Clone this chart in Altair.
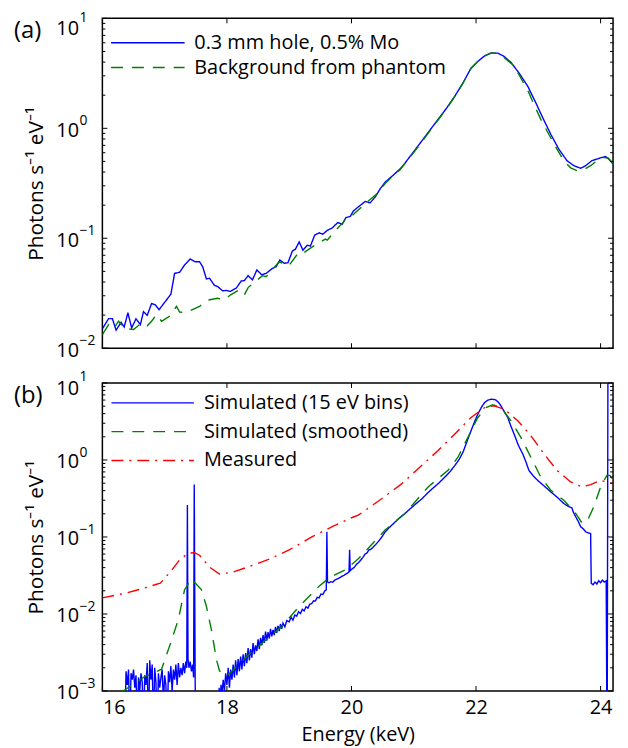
import altair as alt
import pandas as pd

# ---------------- data ----------------
# Panel (a): 0.3 mm hole, 0.5% Mo
EA_HOLE = [16.00, 16.10, 16.16, 16.22, 16.30, 16.35, 16.41, 16.47, 16.54, 16.61,
           16.66, 16.72, 16.79, 16.85, 16.91, 17.10, 17.16, 17.24, 17.32, 17.41,
           17.49, 17.56, 17.61, 17.67, 17.72, 17.80, 17.85, 17.93, 17.99, 18.05,
           18.15, 18.23, 18.28, 18.34, 18.41, 18.48, 18.56, 18.63, 18.73, 18.79,
           18.85, 18.92, 18.98, 19.05, 19.10, 19.16, 19.22, 19.29, 19.34, 19.41,
           19.48, 19.54, 19.61, 19.69, 19.78, 19.85, 19.91, 19.98, 20.03, 20.12,
           20.22, 20.30, 20.38, 20.46, 20.54, 20.65, 20.78, 20.86, 20.94, 21.07,
           21.23, 21.39, 21.52, 21.66, 21.79, 21.92, 22.03, 22.14, 22.24, 22.35,
           22.45, 22.56, 22.69, 22.83, 22.96, 23.07, 23.20, 23.33, 23.46, 23.57,
           23.68, 23.76, 23.86, 23.94, 24.02, 24.08, 24.13, 24.20]
VA_HOLE = [0.0150, 0.0186, 0.0186, 0.0146, 0.0172, 0.0156, 0.0210, 0.0153, 0.0185, 0.0164,
           0.0215, 0.0199, 0.0255, 0.0248, 0.0224, 0.0310, 0.0480, 0.0490, 0.0572, 0.0647,
           0.0612, 0.0612, 0.0552, 0.0427, 0.0433, 0.0372, 0.0364, 0.0333, 0.0335, 0.0328,
           0.0352, 0.0409, 0.0412, 0.0457, 0.0418, 0.0515, 0.0465, 0.0480, 0.0532, 0.0552,
           0.0634, 0.0592, 0.0600, 0.0764, 0.0796, 0.0927, 0.0780, 0.0865, 0.0849, 0.107,
           0.112, 0.109, 0.118, 0.124, 0.139, 0.134, 0.154, 0.158, 0.177, 0.195,
           0.216, 0.210, 0.237, 0.281, 0.324, 0.366, 0.427, 0.483, 0.555, 0.693,
           0.914, 1.205, 1.507, 1.963, 2.588, 3.532, 4.064, 4.571, 4.831, 4.831,
           4.508, 3.981, 3.184, 2.415, 1.706, 1.250, 0.883, 0.646, 0.508, 0.457,
           0.433, 0.457, 0.508, 0.525, 0.543, 0.555, 0.525, 0.473]

# Panel (a): background from phantom
EA_BG = [16.00, 16.10, 16.18, 16.26, 16.35, 16.50, 16.63, 16.72, 16.79, 16.87,
         16.95, 17.03, 17.08, 17.19, 17.24, 17.35, 17.56, 17.67, 17.85, 17.96,
         18.06, 18.20, 18.28, 18.34, 18.49, 18.57, 18.63, 18.84, 18.99, 19.16,
         19.24, 19.37, 19.58, 19.61, 19.71, 19.90, 20.01, 20.27, 20.41, 20.54,
         20.65, 20.78, 20.94, 21.07, 21.23, 21.39, 21.52, 21.66, 21.79, 21.92,
         22.03, 22.14, 22.24, 22.35, 22.45, 22.59, 22.69, 22.85, 22.93, 23.04,
         23.14, 23.30, 23.41, 23.52, 23.62, 23.73, 23.84, 23.95, 24.05, 24.12,
         24.20]
VA_BG = [0.0133, 0.0164, 0.0150, 0.0176, 0.0151, 0.0148, 0.0170, 0.0160, 0.0176, 0.0202,
         0.0176, 0.0188, 0.0195, 0.0240, 0.0213, 0.0212, 0.0240, 0.0272, 0.0285, 0.0275,
         0.0306, 0.0340, 0.0306, 0.0356, 0.0418, 0.0457, 0.0448, 0.0612, 0.0560, 0.0753,
         0.0743, 0.0836, 0.0982, 0.0961, 0.112, 0.146, 0.161, 0.218, 0.254, 0.315,
         0.360, 0.420, 0.545, 0.680, 0.900, 1.190, 1.490, 1.950, 2.570, 3.500,
         4.050, 4.550, 4.850, 4.800, 4.400, 3.780, 3.080, 2.100, 1.650, 1.205,
         0.946, 0.646, 0.508, 0.437, 0.412, 0.421, 0.457, 0.513, 0.543, 0.537,
         0.480]

# Panel (b): simulated, 15 eV bins
EB_SIM = [16.36, 16.38, 16.40, 16.42, 16.44, 16.46, 16.48, 16.50, 16.52, 16.54,
          16.56, 16.58, 16.60, 16.62, 16.64, 16.66, 16.68, 16.70, 16.72, 16.74,
          16.76, 16.78, 16.80, 16.82, 16.84, 16.86, 16.88, 16.90, 16.92, 16.94,
          16.96, 16.98, 17.00, 17.02, 17.04, 17.06, 17.08, 17.10, 17.12, 17.14,
          17.16, 17.18, 17.20, 17.22, 17.24, 17.26, 17.28, 17.30, 17.32, 17.34,
          17.355, 17.365, 17.375, 17.39, 17.41, 17.43, 17.45, 17.465, 17.475, 17.49,
          17.50, 17.64, 17.655, 17.67, 17.72, 17.735, 17.75, 17.79, 17.805, 17.82,
          17.86, 17.875, 17.89, 17.905, 17.92, 17.94, 17.96, 17.98, 18.00, 18.02,
          18.04, 18.06, 18.08, 18.10, 18.12, 18.14, 18.16, 18.18, 18.20, 18.22,
          18.24, 18.26, 18.28, 18.30, 18.32, 18.34, 18.36, 18.38, 18.40, 18.42,
          18.44, 18.46, 18.48, 18.50, 18.52, 18.54, 18.56, 18.58, 18.60, 18.62,
          18.64, 18.66, 18.68, 18.70, 18.72, 18.74, 18.76, 18.78, 18.80, 18.82,
          18.84, 18.86, 18.88, 18.90, 18.93, 18.96, 19.00, 19.03, 19.06, 19.09,
          19.12, 19.15, 19.18, 19.21, 19.24, 19.27, 19.30, 19.33, 19.36, 19.39,
          19.42, 19.45, 19.48, 19.51, 19.54, 19.57, 19.595, 19.605, 19.615, 19.64,
          19.67, 19.70, 19.73, 19.76, 19.79, 19.82, 19.85, 19.88, 19.91, 19.94,
          19.96, 19.97, 19.98, 20.01, 20.04, 20.07, 20.10, 20.14, 20.18, 20.22,
          20.25, 20.28, 20.31, 20.35, 20.39, 20.43, 20.48, 20.54, 20.60, 20.67,
          20.74, 20.81, 20.86, 20.93, 21.00, 21.07, 21.14, 21.21, 21.30, 21.40,
          21.50, 21.58, 21.66, 21.73, 21.79, 21.85, 21.92, 21.98, 22.03, 22.09,
          22.14, 22.19, 22.24, 22.29, 22.32, 22.36, 22.40, 22.45, 22.51, 22.56,
          22.61, 22.68, 22.75, 22.80, 22.85, 22.92, 22.99, 23.10, 23.20, 23.30,
          23.41, 23.48, 23.54, 23.56, 23.60, 23.64, 23.68, 23.72, 23.76, 23.80,
          23.84, 23.85, 23.88, 23.91, 23.94, 23.97, 24.00, 24.03, 24.06, 24.09,
          24.105, 24.12, 24.135]
VB_SIM = [0.0003, 0.0018, 0.0012, 0.0019, 0.0003, 0.0017, 0.0014, 0.0019, 0.0011, 0.0016,
          0.0003, 0.0015, 0.0010, 0.0017, 0.0013, 0.0003, 0.0016, 0.0012, 0.0023, 0.0003,
          0.0025, 0.0014, 0.0022, 0.0003, 0.0020, 0.0013, 0.0003, 0.0017, 0.0011, 0.0015,
          0.0019, 0.0007, 0.0016, 0.0012, 0.0003, 0.0018, 0.0013, 0.0021, 0.0010, 0.0019,
          0.0014, 0.0022, 0.0012, 0.0023, 0.0015, 0.0020, 0.0016, 0.0023, 0.0017, 0.0024,
          0.0020, 0.26, 0.0026, 0.0020, 0.0024, 0.0018, 0.0022, 0.0015, 0.48, 0.0013,
          0.0002, 0.0002, 0.0010, 0.0002, 0.0002, 0.0009, 0.0002, 0.0002, 0.0010, 0.0002,
          0.0002, 0.0011, 0.0006, 0.0012, 0.0009, 0.0014, 0.0010, 0.0017, 0.0012, 0.0020,
          0.0011, 0.0019, 0.0014, 0.0022, 0.0015, 0.0025, 0.0016, 0.0026, 0.0018, 0.0028,
          0.0019, 0.0030, 0.0021, 0.0031, 0.0023, 0.0036, 0.0025, 0.0035, 0.0027, 0.0042,
          0.0030, 0.0039, 0.0033, 0.0047, 0.0035, 0.0049, 0.0039, 0.0053, 0.0042, 0.0059,
          0.0045, 0.0058, 0.0048, 0.0064, 0.0051, 0.0062, 0.0053, 0.0068, 0.0057, 0.0070,
          0.0060, 0.0074, 0.0064, 0.0076, 0.0068, 0.0082, 0.0079, 0.0091, 0.0083, 0.0097,
          0.0094, 0.0107, 0.0101, 0.0115, 0.0110, 0.0124, 0.0119, 0.0134, 0.0136, 0.0148,
          0.0147, 0.0165, 0.0162, 0.0181, 0.0179, 0.0199, 0.0205, 0.117, 0.026, 0.0255,
          0.0262, 0.0258, 0.0275, 0.0282, 0.0290, 0.0298, 0.0310, 0.0318, 0.0330, 0.0342,
          0.0350, 0.068, 0.0365, 0.0385, 0.0400, 0.0430, 0.0455, 0.0490, 0.0540, 0.0600,
          0.0620, 0.0680, 0.0690, 0.0740, 0.0800, 0.0870, 0.0980, 0.116, 0.131, 0.148,
          0.168, 0.188, 0.202, 0.228, 0.255, 0.285, 0.318, 0.365, 0.425, 0.50,
          0.60, 0.70, 0.85, 1.02, 1.26, 1.70, 2.40, 3.20, 3.95, 4.90,
          5.60, 6.00, 6.15, 6.10, 6.00, 5.60, 5.05, 4.30, 3.55, 2.75,
          2.18, 1.55, 1.20, 0.95, 0.73, 0.62, 0.543, 0.455, 0.385, 0.330,
          0.272, 0.250, 0.238, 0.212, 0.183, 0.160, 0.136, 0.128, 0.117, 0.113,
          0.111, 0.025, 0.024, 0.026, 0.0245, 0.027, 0.0255, 0.0275, 0.026, 0.027,
          0.0001, 100.0, 100.0]

# Panel (b): simulated, smoothed
EB_SMOOTH = [16.30, 16.50, 16.66, 16.95, 17.08, 17.22, 17.32, 17.43, 17.59, 17.67,
             17.75, 17.83, 17.88, 17.99, 18.09, 18.36, 18.89, 19.16, 19.48, 19.64,
             19.74, 19.90, 20.11, 20.54, 20.86, 21.23, 21.55, 21.71, 21.87, 22.03,
             22.16, 22.27, 22.40, 22.56, 22.72, 22.88, 23.04, 23.20, 23.41, 23.60,
             23.70, 23.78, 23.89, 24.00, 24.10, 24.15, 24.20]
VB_SMOOTH = [0.00096, 0.00123, 0.00150, 0.00192, 0.00385, 0.00849, 0.0207, 0.0284, 0.0207, 0.0126,
             0.00631, 0.00259, 0.00183, 0.00157, 0.00183, 0.00300, 0.00700, 0.0125, 0.0229, 0.0293,
             0.0324, 0.0375, 0.0520, 0.123, 0.202, 0.446, 0.733, 1.086, 1.968, 3.565,
             4.797, 5.200, 4.797, 3.236, 1.968, 1.086, 0.600, 0.404, 0.300, 0.202,
             0.153, 0.158, 0.246, 0.446, 0.631, 0.631, 0.543]

# Panel (b): measured
EB_MEAS = [16.00, 16.39, 16.61, 16.93, 17.11, 17.24, 17.38, 17.48, 17.56, 17.72,
           17.88, 18.09, 18.36, 18.68, 19.00, 19.37, 19.69, 20.01, 20.11, 20.49,
           20.81, 21.07, 21.39, 21.66, 21.92, 22.14, 22.29, 22.45, 22.67, 22.88,
           23.09, 23.30, 23.52, 23.70, 23.84, 24.00, 24.20]
VB_MEAS = [0.0162, 0.0188, 0.0210, 0.0251, 0.0367, 0.0505, 0.0617, 0.0624, 0.0580, 0.0406,
           0.0330, 0.0348, 0.0414, 0.0515, 0.0679, 0.101, 0.136, 0.179, 0.192, 0.316,
           0.493, 0.769, 1.327, 2.178, 3.565, 4.797, 5.047, 4.581, 3.236, 2.070,
           1.202, 0.733, 0.518, 0.446, 0.479, 0.543, 0.493]

LEG_A = ["0.3 mm hole, 0.5% Mo", "Background from phantom"]
LEG_B = ["Simulated (15 eV bins)", "Simulated (smoothed)", "Measured"]
PANEL_LABELS = ["(a)", "(b)"]
X_TICKS = [16, 18, 20, 22, 24]
YA_MAJOR = [0.01, 0.1, 1, 10]
YA_EXP = ["\u22122", "\u22121", "0", "1"]
YB_MAJOR = [0.001, 0.01, 0.1, 1, 10]
YB_EXP = ["\u22123", "\u22122", "\u22121", "0", "1"]
Y_TITLE = "Photons  s\u207b\u00b9 eV\u207b\u00b9"
X_TITLE = "Energy (keV)"

BLUE, GREEN, RED = "#0000ff", "#008000", "#ff0000"
FONT = "Open Sans"
FS = 20
W = 514
HA = 332
HB = 310
LINE_SYMBOL = "M-4,0H4"   # legend sample: a long horizontal stroke


def minor_ticks(majors):
    return [m * v for v in majors[:-1] for m in range(2, 10)]


def frame(series):
    rows = []
    for name, es, vs in series:
        assert len(es) == len(vs), name
        for e, v in zip(es, vs):
            rows.append({"e": e, "v": v, "s": name})
    return pd.DataFrame(rows)


def panel(series, names, colors, dashes, ymaj, yexp, ydom, H, plabel, show_x,
          sample_len, leg_y, row_pad, top_shift, top_exp_dy):
    xs = alt.Scale(domain=[16, 24.2], nice=False, zero=False)
    ys = alt.Scale(type="log", domain=ydom, nice=False)
    if show_x:
        xaxis = alt.Axis(values=X_TICKS, ticks=False, tickSize=0, domain=False, grid=False,
                         labelFont=FONT, labelFontSize=FS, labelColor="black", labelPadding=7,
                         title=X_TITLE, titleFont=FONT, titleFontSize=FS, titleFontWeight="normal",
                         titleColor="black", titlePadding=7, format="d")
    else:
        xaxis = None
    top = ydom[1]
    yaxis = alt.Axis(values=ymaj, labelExpr="'10'", ticks=False, tickSize=0, domain=False,
                     grid=False, labelFont=FONT, labelFontSize=FS, labelColor="black",
                     labelPadding=24,
                     labelOffset={"condition": {"test": f"datum.value >= {top}", "value": top_shift},
                                  "value": 2},
                     title=Y_TITLE, titleFont=FONT, titleFontSize=21,
                     titleFontWeight="normal", titleColor="black", titlePadding=9)
    unit = sample_len / 4.0            # sqrt(size) of the legend symbol
    leg = alt.Legend(orient="none", legendX=8 + 1.5 * unit, legendY=leg_y, title=None,
                     symbolType=LINE_SYMBOL, symbolSize=unit * unit, symbolStrokeWidth=1.4,
                     labelFont=FONT, labelFontSize=FS, labelColor="black",
                     labelOffset=1.5 * unit + 9,
                     rowPadding=row_pad, labelLimit=500, padding=0)
    lines = alt.Chart(frame(series)).mark_line(clip=True, strokeWidth=1.4).encode(
        x=alt.X("e:Q", scale=xs, axis=xaxis),
        y=alt.Y("v:Q", scale=ys, axis=yaxis),
        color=alt.Color("s:N", scale=alt.Scale(domain=names, range=colors), legend=leg),
        strokeDash=alt.StrokeDash("s:N", scale=alt.Scale(domain=names, range=dashes), legend=leg),
    )
    layers = [lines]
    ymin = minor_ticks(ymaj)
    for vals, L in ((ymaj, 5), (ymin, 3)):
        d = pd.DataFrame({"t": vals})
        for x0, x1 in ((0, L), (W, W - L)):
            layers.append(alt.Chart(d).mark_rule(color="black", strokeWidth=1).encode(
                y=alt.Y("t:Q", scale=ys, axis=yaxis), x=alt.value(x0), x2=alt.value(x1)))
    dx = pd.DataFrame({"t": X_TICKS})
    for y0, y1 in ((0, 5), (H, H - 5)):
        layers.append(alt.Chart(dx).mark_rule(color="black", strokeWidth=1).encode(
            x=alt.X("t:Q", scale=xs, axis=xaxis), y=alt.value(y0), y2=alt.value(y1)))
    # exponents of the decade labels (10^n)
    layers.append(alt.Chart(pd.DataFrame({"t": ymaj[:-1], "lab": yexp[:-1]})).mark_text(
        align="left", baseline="middle", dy=-7, fontSize=14, font=FONT, color="black").encode(
        y=alt.Y("t:Q", scale=ys, axis=yaxis), x=alt.value(-23), text="lab:N"))
    layers.append(alt.Chart(pd.DataFrame({"t": ymaj[-1:], "lab": yexp[-1:]})).mark_text(
        align="left", baseline="middle", dy=top_exp_dy, fontSize=14, font=FONT, color="black").encode(
        y=alt.Y("t:Q", scale=ys, axis=yaxis), x=alt.value(-23), text="lab:N"))
    layers.append(alt.Chart(pd.DataFrame({"lab": [plabel]})).mark_text(
        align="left", baseline="middle", fontSize=24, font=FONT, color="black").encode(
        x=alt.value(-89), y=alt.value(13), text="lab:N"))
    return alt.layer(*layers).properties(width=W, height=H)


pa = panel([(LEG_A[0], EA_HOLE, VA_HOLE), (LEG_A[1], EA_BG, VA_BG)],
           LEG_A, [BLUE, GREEN], [[1, 0], [12, 9]], YA_MAJOR, YA_EXP, [0.01, 10], HA,
           PANEL_LABELS[0], False, 74, 14.5, 5, 10, 0)
pb = panel([(LEG_B[0], EB_SIM, VB_SIM), (LEG_B[1], EB_SMOOTH, VB_SMOOTH), (LEG_B[2], EB_MEAS, VB_MEAS)],
           LEG_B, [BLUE, GREEN, RED], [[1, 0], [12, 9], [12, 6, 2, 6]], YB_MAJOR, YB_EXP, [0.001, 10], HB,
           PANEL_LABELS[1], True, 83, 8.5, 7, 6, -6)

chart = alt.VConcatChart(vconcat=[pa, pb], spacing=35, bounds="flush").resolve_scale(
    y="independent", color="independent", strokeDash="independent"
).resolve_legend(color="independent", strokeDash="independent").configure_view(
    stroke="black", strokeWidth=1.5
).properties(background="white", padding={"left": 5, "top": 0, "right": 5, "bottom": 5})

chart.save("out.html", embed_options={"renderer": "svg", "actions": False})
